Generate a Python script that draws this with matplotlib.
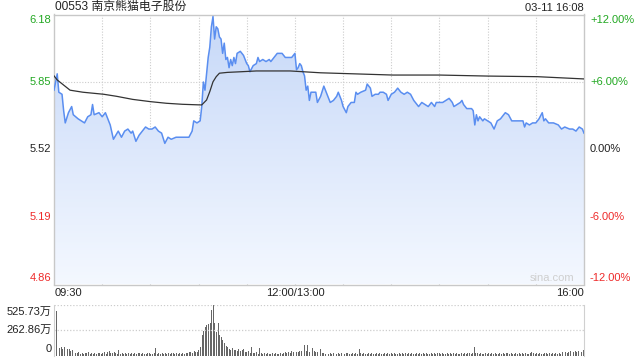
import matplotlib
matplotlib.use("Agg")
import matplotlib.pyplot as plt
import numpy as np

plt.rcParams['font.family'] = ['Liberation Sans', 'Noto Sans CJK SC', 'DejaVu Sans']

# ---------------- data ----------------
title = "00553 南京熊猫电子股份"
stamp = "03-11 16:08"
prev_close = 5.52
price_ticks = [6.18, 5.85, 5.52, 5.19, 4.86]
pct_ticks = ["+12.00%", "+6.00%", "0.00%", "-6.00%", "-12.00%"]
time_labels = ["09:30", "12:00/13:00", "16:00"]
vol_labels = ["525.73万", "262.86万", "0"]
vol_max = 525.73

price_t = [0, 2, 3, 5, 6, 7, 9, 11, 12, 15, 17, 19, 21, 23, 24, 25, 28, 30, 32, 35,
           37, 40, 42, 44, 46, 48, 49, 51, 53, 57, 59, 61, 63, 65, 67, 69, 71, 73, 76, 79,
           84, 86, 87, 89, 91, 92, 93, 94, 95, 96, 97, 98, 99, 100, 101, 102, 103, 104, 105, 106,
           107, 108, 109, 110, 111, 112, 113, 114, 116, 118, 120, 121, 122, 124, 126, 127, 128, 130, 132, 134,
           135, 137, 139, 142, 144, 146, 148, 150, 151, 152, 153, 154, 155, 156, 157, 158, 159, 160, 161, 163,
           164, 166, 168, 169, 172, 174, 176, 177, 179, 180, 182, 183, 185, 187, 188, 189, 191, 194, 195, 197,
           198, 200, 202, 203, 205, 207, 208, 210, 212, 214, 216, 218, 220, 222, 224, 227, 229, 231, 233, 235,
           237, 238, 240, 242, 244, 246, 248, 249, 251, 253, 254, 255, 257, 260, 261, 262, 263, 264, 265, 267,
           268, 270, 272, 274, 276, 278, 281, 283, 285, 287, 290, 292, 293, 294, 296, 298, 300, 302, 304, 305,
           306, 308, 311, 314, 316, 318, 321, 323, 325, 327, 329, 330]
price_v = [5.81, 5.89, 5.80, 5.79, 5.71, 5.65, 5.70, 5.73, 5.69, 5.67, 5.66, 5.65, 5.68, 5.69, 5.74, 5.69, 5.70, 5.68, 5.70, 5.64,
           5.57, 5.61, 5.58, 5.61, 5.62, 5.60, 5.61, 5.56, 5.59, 5.63, 5.62, 5.62, 5.63, 5.61, 5.60, 5.55, 5.58, 5.57, 5.58, 5.58,
           5.58, 5.61, 5.66, 5.65, 5.66, 5.73, 5.85, 5.81, 5.89, 5.97, 6.02, 6.12, 6.17, 6.06, 6.12, 6.11, 6.07, 6.06, 5.99, 6.04,
           5.96, 5.97, 5.92, 5.96, 5.93, 5.97, 5.94, 5.99, 6.00, 5.98, 5.94, 5.93, 5.90, 5.93, 5.94, 5.97, 5.95, 5.96, 5.95, 5.96,
           5.95, 5.97, 5.99, 5.99, 5.97, 5.97, 5.97, 5.99, 5.91, 5.92, 5.94, 5.93, 5.90, 5.88, 5.81, 5.83, 5.76, 5.80, 5.80, 5.80,
           5.75, 5.78, 5.83, 5.81, 5.75, 5.76, 5.78, 5.80, 5.76, 5.73, 5.70, 5.73, 5.75, 5.75, 5.80, 5.79, 5.80, 5.81, 5.84, 5.82,
           5.78, 5.79, 5.79, 5.80, 5.80, 5.79, 5.76, 5.79, 5.80, 5.82, 5.80, 5.79, 5.80, 5.79, 5.76, 5.73, 5.75, 5.74, 5.73, 5.75,
           5.73, 5.75, 5.75, 5.75, 5.76, 5.77, 5.75, 5.73, 5.74, 5.75, 5.76, 5.74, 5.72, 5.72, 5.71, 5.64, 5.69, 5.66, 5.68, 5.66,
           5.67, 5.66, 5.65, 5.62, 5.66, 5.67, 5.70, 5.69, 5.66, 5.66, 5.66, 5.66, 5.63, 5.65, 5.64, 5.65, 5.65, 5.67, 5.70, 5.66,
           5.67, 5.65, 5.65, 5.64, 5.62, 5.63, 5.62, 5.62, 5.61, 5.63, 5.62, 5.60]

avg_t = [0, 2, 10, 18, 31, 39, 49, 60, 70, 80, 91, 92, 95, 97, 99, 101, 103, 108, 116, 126, 147, 166, 211, 240, 270, 301, 330]
avg_v = [5.88, 5.86, 5.81, 5.80, 5.79, 5.78, 5.765, 5.754, 5.746, 5.741, 5.738, 5.738, 5.762, 5.803, 5.851, 5.876,
         5.893, 5.897, 5.900, 5.904, 5.904, 5.895, 5.884, 5.884, 5.879, 5.876, 5.865]

volume = [500, 460, 160, 80, 92, 70, 86, 60, 70, 70, 45, 58, 40, 30, 25, 35, 20, 28, 22, 30,
          25, 35, 20, 28, 22, 30, 18, 25, 32, 20, 28, 40, 22, 35, 45, 30, 25, 40, 30, 22,
          58, 20, 25, 18, 28, 22, 30, 18, 25, 20, 28, 22, 30, 25, 20, 28, 22, 18, 25, 30,
          22, 20, 28, 80, 22, 25, 18, 30, 22, 25, 20, 28, 22, 30, 25, 20, 28, 22, 25, 20,
          30, 22, 25, 28, 40, 35, 30, 45, 38, 42, 60, 90, 212, 250, 298, 320, 325, 333, 470, 526,
          333, 246, 333, 212, 195, 161, 127, 100, 86, 70, 60, 75, 55, 60, 50, 65, 48, 55, 70, 40,
          35, 45, 30, 86, 30, 25, 35, 20, 76, 28, 22, 25, 20, 30, 22, 18, 25, 20, 28, 22,
          18, 25, 20, 30, 35, 28, 40, 30, 50, 35, 30, 40, 35, 50, 45, 60, 110, 50, 110, 40,
          60, 76, 45, 35, 40, 30, 66, 25, 30, 20, 28, 22, 25, 18, 30, 22, 20, 25, 18, 28,
          22, 20, 25, 30, 22, 18, 25, 20, 28, 22, 70, 25, 20, 28, 22, 18, 25, 20, 30, 22,
          20, 25, 18, 28, 22, 20, 25, 18, 30, 22, 25, 20, 28, 22, 18, 25, 20, 28, 22, 30,
          20, 25, 18, 28, 22, 20, 25, 18, 30, 22, 25, 20, 28, 22, 18, 25, 20, 28, 22, 30,
          25, 20, 28, 22, 18, 25, 20, 30, 22, 25, 20, 28, 22, 18, 25, 20, 28, 22, 30, 25,
          20, 28, 92, 30, 25, 20, 28, 22, 18, 25, 20, 30, 22, 25, 20, 28, 22, 18, 25, 20,
          28, 22, 30, 25, 20, 28, 22, 18, 25, 20, 30, 22, 25, 20, 28, 22, 18, 25, 35, 30,
          22, 25, 20, 28, 22, 18, 25, 30, 20, 28, 22, 25, 18, 30, 22, 28, 20, 35, 25,
          40, 28, 35, 45, 30, 40, 50, 35, 45, 60, 40, 55]

# ---------------- layout helpers ----------------
W, H = 640, 360
def fx(px):
    return px / W
def fy(py):
    return 1 - py / H

GREEN = '#22a822'
RED = '#ee2a2a'
BLACK = '#222222'
GRID = '#cccccc'

fig = plt.figure(figsize=(6.4, 3.6), dpi=100)
fig.patch.set_facecolor('white')

# main price axes
x0, x1 = 54, 584
ax = fig.add_axes([fx(x0), fy(284.5), (x1 - x0) / W, 270 / H])
ax.set_xlim(0, 330)
ax.set_ylim(price_ticks[-1], price_ticks[0])
ax.set_xticks([])
ax.set_yticks([])
for s in ax.spines.values():
    s.set_color('#c8c8c8')
    s.set_linewidth(1.0)

# vertical grid every 30 minutes
for m in range(30, 330, 30):
    ax.axvline(m, color=GRID, lw=0.8, ls=(0, (1, 1.5)), zorder=1)
# horizontal grid
for p in price_ticks[1:-1]:
    if p == prev_close:
        ax.axhline(p, color='#aaaaaa', lw=0.9, ls=(0, (3, 2)), zorder=1)
    else:
        ax.axhline(p, color=GRID, lw=0.8, ls=(0, (1, 1.5)), zorder=1)

# gradient fill under price line
poly = ax.fill_between(price_t, price_v, price_ticks[-1], facecolor='none', edgecolor='none')
grad = np.linspace(0, 1, 256).reshape(-1, 1)
top_c = np.array([198, 216, 248]) / 255
bot_c = np.array([244, 248, 255]) / 255
img = top_c[None, None, :] * (1 - grad[:, :, None]) + bot_c[None, None, :] * grad[:, :, None]
im = ax.imshow(img, extent=[0, 330, price_ticks[-1], price_ticks[0]], aspect='auto',
               origin='upper', zorder=2)
im.set_clip_path(poly.get_paths()[0], transform=ax.transData)

ax.plot(price_t, price_v, color='#5a8ef0', lw=1.1, zorder=4)
ax.plot(avg_t, avg_v, color='#333333', lw=0.9, zorder=5)

ax.text(0.94, 0.004, "sina.com", transform=ax.transAxes, ha='center', va='bottom',
        color='#cfcfcf', fontsize=8)

# volume axes
vax = fig.add_axes([fx(x0), fy(355.7), (x1 - x0) / W, 51.2 / H])
vax.set_xlim(-0.5, 330.5)
vax.set_ylim(0, vol_max)
vax.set_xticks([])
vax.set_yticks([])
for k, s in vax.spines.items():
    s.set_visible(k in ('right', 'left'))
    s.set_color('#d0d0d0')
vax.axhline(vol_max, color=GRID, lw=0.9, ls=(0, (1, 1.5)))
vax.axhline(vol_max / 2, color=GRID, lw=0.9, ls=(0, (1, 1.5)))
vax.bar(np.arange(len(volume)), volume, width=0.6, color='#666666', linewidth=0)

# ---------------- texts ----------------
fs = 8
fig.text(fx(55), fy(7), title, ha='left', va='center', fontsize=8.6, color=BLACK)
fig.text(fx(584), fy(8), stamp, ha='right', va='center', fontsize=fs, color=BLACK)

left_y = [20, 82, 149, 216.5, 278]
cols = [GREEN, GREEN, BLACK, RED, RED]
for lab, y, c, pct in zip(price_ticks, left_y, cols, pct_ticks):
    fig.text(fx(51.5), fy(y), f"{lab:.2f}", ha='right', va='center', fontsize=fs, color=c)
    fig.text(fx(590), fy(y), pct, ha='left', va='center', fontsize=fs, color=c)

fig.text(fx(55), fy(293.5), time_labels[0], ha='left', va='center', fontsize=fs, color=BLACK)
fig.text(fx(295), fy(293.5), time_labels[1], ha='center', va='center', fontsize=fs, color=BLACK)
fig.text(fx(584), fy(293.5), time_labels[2], ha='right', va='center', fontsize=fs, color=BLACK)

for lab, y in zip(vol_labels, [311.5, 330, 348.5]):
    fig.text(fx(51.5), fy(y), lab, ha='right', va='center', fontsize=fs, color=BLACK)

fig.savefig("out.png", dpi=100, facecolor='white')
